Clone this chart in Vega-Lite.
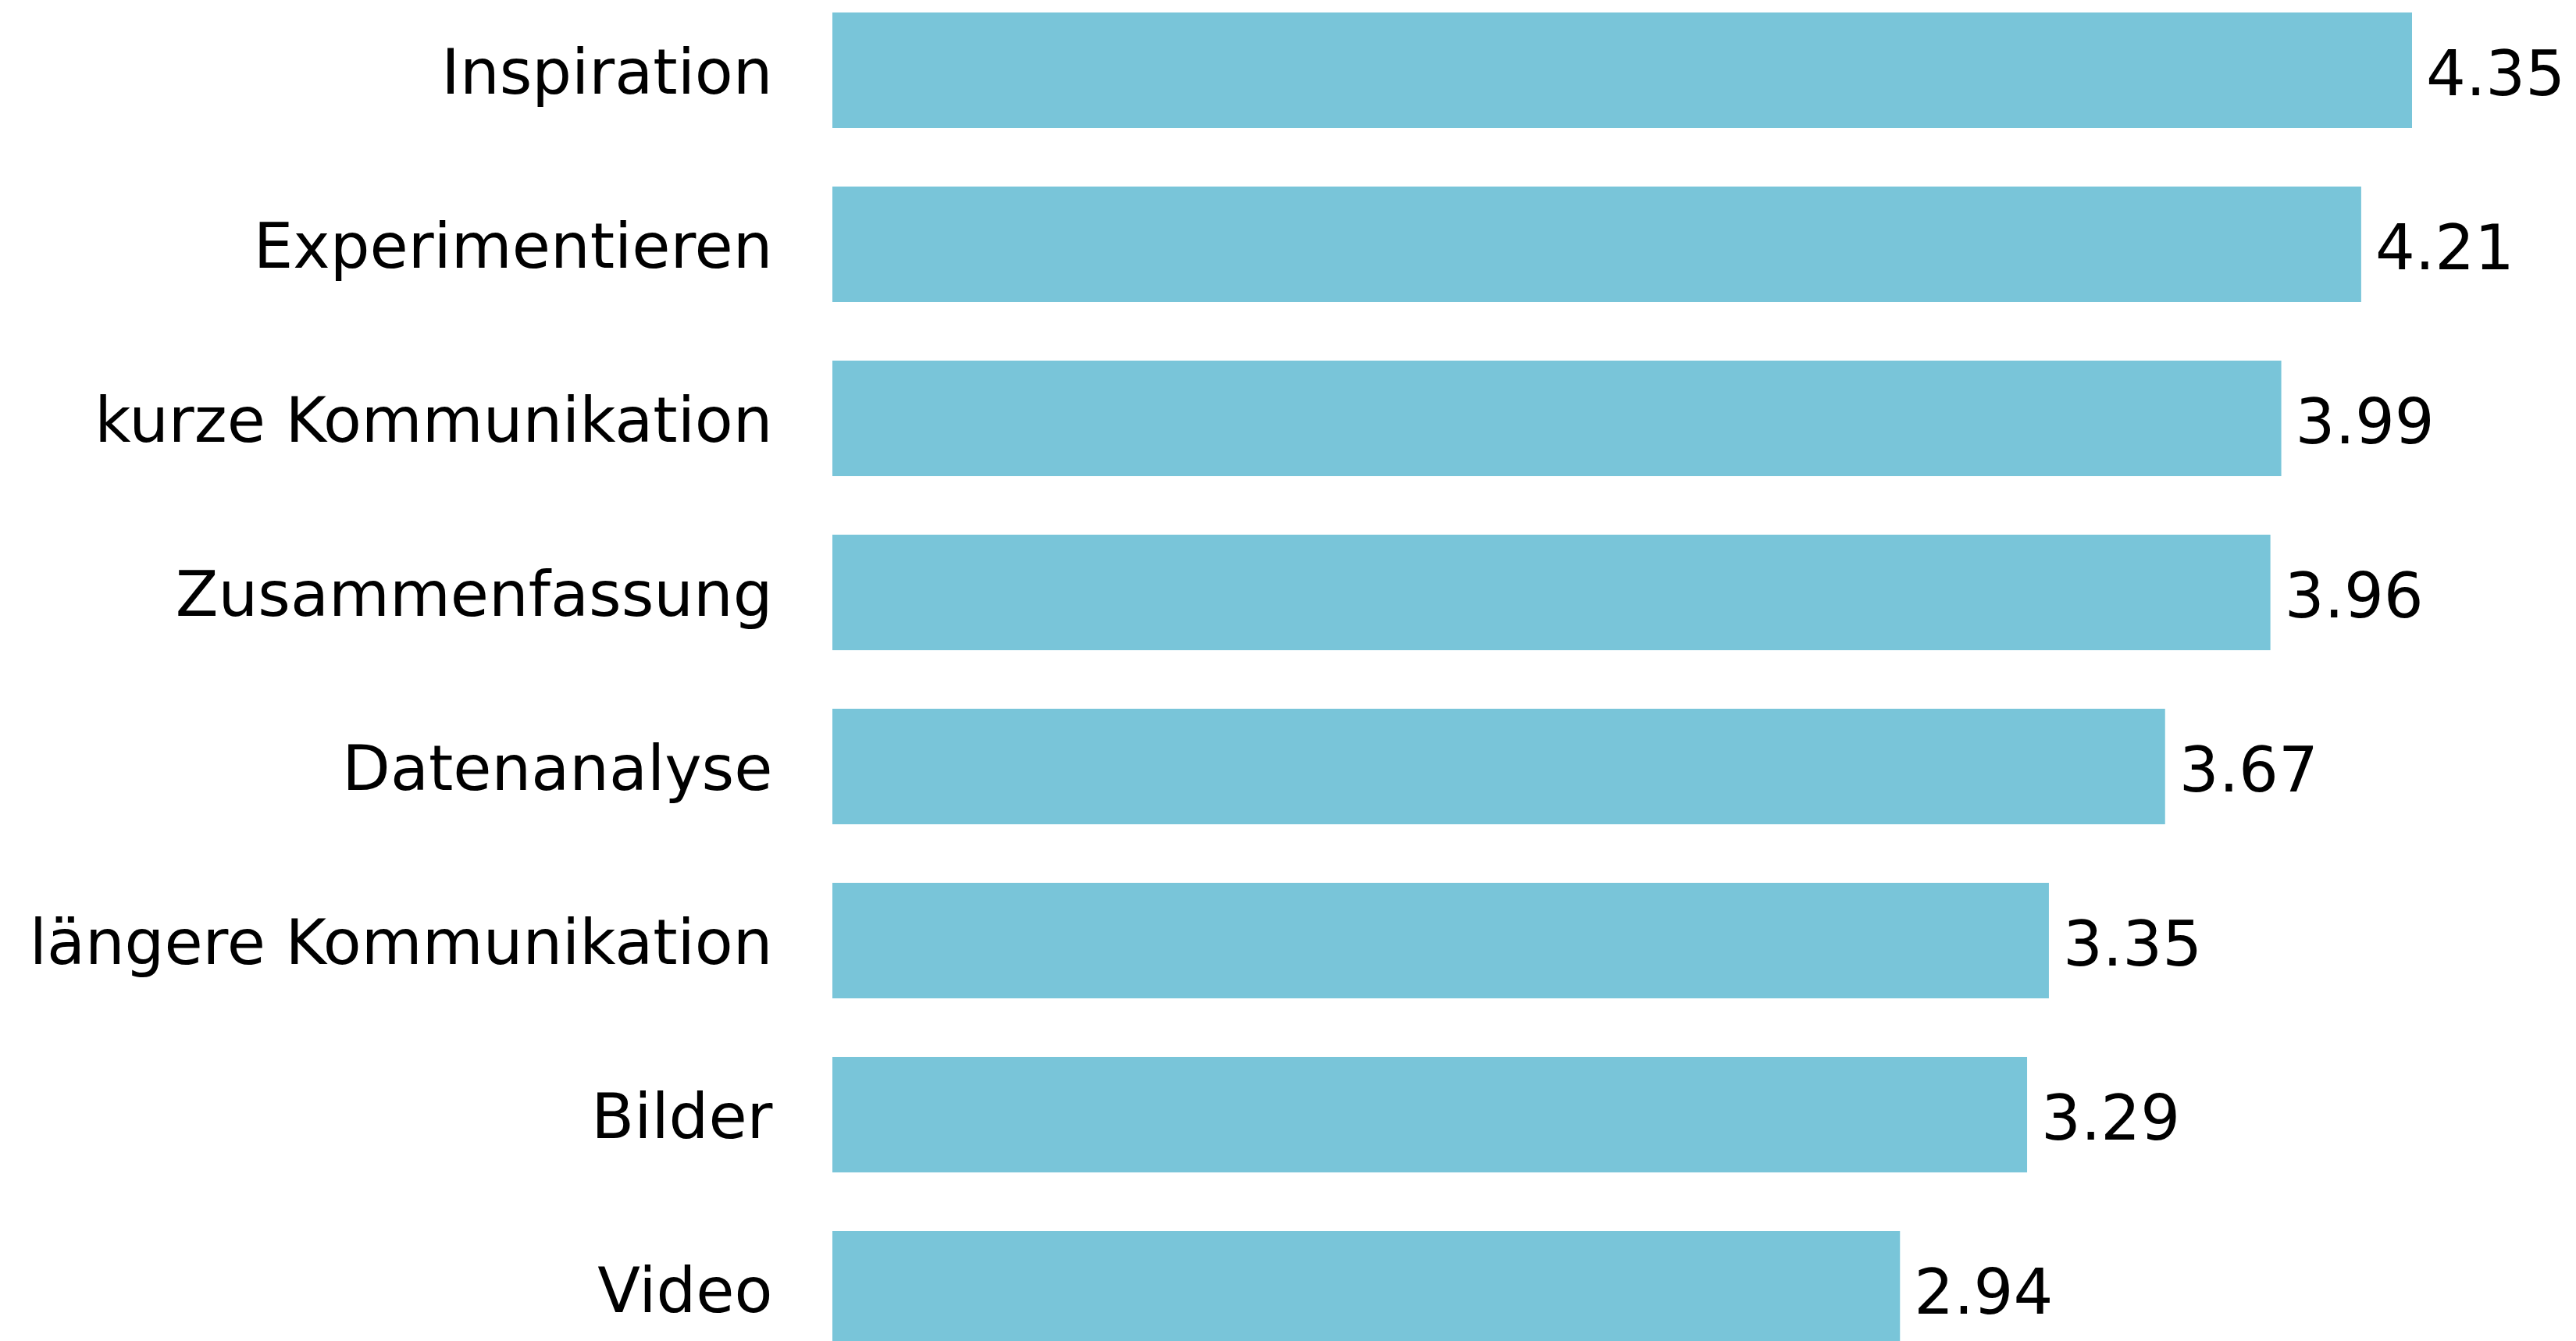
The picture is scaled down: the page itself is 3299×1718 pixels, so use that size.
{
  "$schema": "https://vega.github.io/schema/vega-lite/v6.json",
  "autosize": {"type": "none"},
  "width": 2023,
  "height": 1702,
  "padding": {"left": 1066, "top": 16, "right": 210, "bottom": 0},
  "background": "white",
  "config": {"view": {"stroke": null}},
  "data": {"values": [
    {"category": "Inspiration", "value": 4.35},
    {"category": "Experimentieren", "value": 4.21},
    {"category": "kurze Kommunikation", "value": 3.99},
    {"category": "Zusammenfassung", "value": 3.96},
    {"category": "Datenanalyse", "value": 3.67},
    {"category": "längere Kommunikation", "value": 3.35},
    {"category": "Bilder", "value": 3.29},
    {"category": "Video", "value": 2.94}
  ]},
  "encoding": {
    "y": {
      "field": "category", "type": "nominal", "sort": null,
      "scale": {"range": [0, 1709], "paddingInner": 0.336, "paddingOuter": 0},
      "axis": {"title": null, "ticks": false, "domain": false, "labelFont": "DejaVu Sans", "labelFontSize": 80, "labelColor": "#000000", "labelPadding": 77, "labelOffset": 6, "labelLimit": 2000}
    },
    "x": {
      "field": "value", "type": "quantitative",
      "scale": {"domain": [0, 4.35], "nice": false, "zero": true},
      "axis": null
    }
  },
  "layer": [
    {"mark": {"type": "bar", "color": "#79C5D9"}},
    {"mark": {"type": "text", "align": "left", "baseline": "middle", "dx": 18, "dy": 8, "font": "DejaVu Sans", "fontSize": 80, "color": "#000000"},
     "encoding": {"text": {"field": "value", "type": "quantitative", "format": ".2f"}}}
  ]
}
